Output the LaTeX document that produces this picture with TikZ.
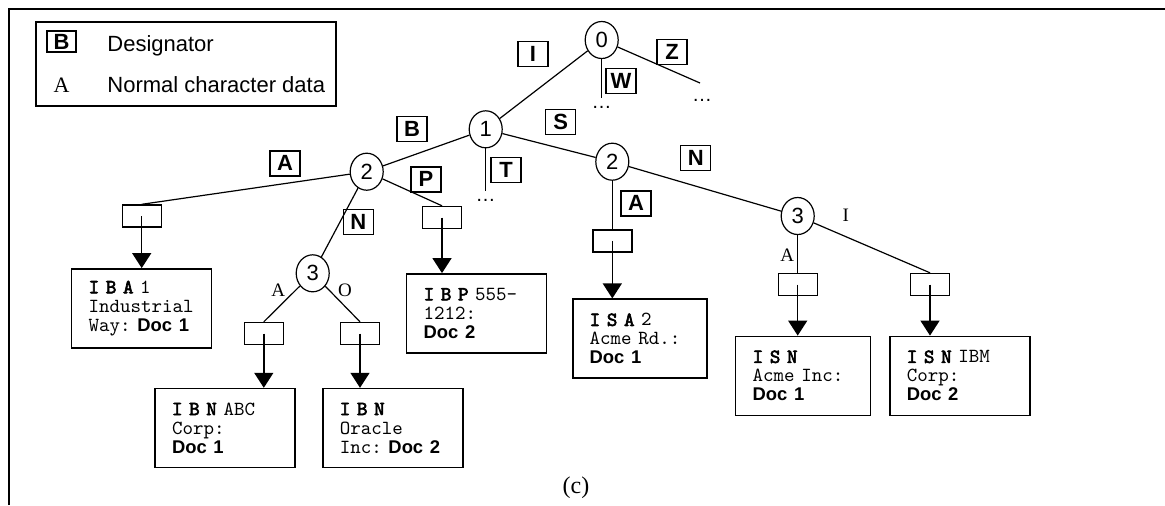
\documentclass[tikz,border=0pt]{standalone}
\usepackage{fontspec}
\setmainfont{Liberation Serif}
\setsansfont{Liberation Sans}
\setmonofont{Latin Modern Mono}[BoldFont={Latin Modern Mono},BoldFeatures={FakeBold=3}]
\usetikzlibrary{arrows.meta,shapes.geometric}

\newcommand{\keyseq}[1]{\textbf{#1}}
\newcommand{\docid}[1]{{\sffamily\bfseries\fontsize{9.2}{9.5}\selectfont #1}}

\tikzset{
  trie state/.style={
    draw,
    ellipse,
    line width=0.6pt,
    minimum width=16.5pt,
    minimum height=18.5pt,
    inner sep=0pt,
    font=\sffamily\fontsize{11}{11}\selectfont
  },
  trie key/.style={
    draw,
    line width=0.7pt,
    minimum width=15pt,
    minimum height=12.5pt,
    inner sep=0pt,
    font=\sffamily\bfseries\fontsize{11}{11}\selectfont
  },
  trie char/.style={inner sep=0pt, font=\fontsize{9.5}{9.5}\selectfont},
  trie slot/.style={
    draw,
    line width=0.7pt,
    minimum width=19.5pt,
    minimum height=11pt,
    inner sep=0pt
  },
  trie doc/.style={
    draw,
    line width=0.7pt,
    align=left,
    text width=#1,
    inner xsep=8.5pt,
    inner ysep=0pt,
    minimum height=39.5pt,
    font=\ttfamily\fontsize{10}{9.5}\selectfont
  },
  trie doc/.default=53pt,
  trie edge/.style={line width=0.6pt},
  trie ptr/.style={-{Triangle[width=9.5pt,length=7.5pt]},line width=0.7pt},
  trie more/.style={inner sep=0pt, font=\sffamily\fontsize{10}{10}\selectfont},
  legend text/.style={anchor=base west, inner sep=0pt, font=\sffamily\fontsize{11}{11}\selectfont}
}

\begin{document}
\begin{tikzpicture}[x=0.5pt,y=-0.5pt]
  \useasboundingbox (0,0) rectangle (1165,505);
  \draw[line width=1pt] (9,505) -- (9,9) -- (1165,9);

  % legend
  \draw[line width=0.7pt] (36,22) rectangle (336,106);
  \node[trie key,minimum width=14.5pt,minimum height=10.5pt] (legB) at (61.5,41.5) {B};
  \node[legend text] (legBtxt) at (107,51) {Designator};
  \node[trie char,anchor=base,font=\fontsize{11}{11}\selectfont] (legA) at (61.5,92.3) {A};
  \node[legend text] (legAtxt) at (107,92.3) {Normal character data};

  % states
  \node[trie state] (s0) at (601.7,40) {0};
  \node[trie state] (s1) at (485.7,129.3) {1};
  \node[trie state] (s2l) at (366.7,171.7) {2};
  \node[trie state] (s2r) at (612.3,161.7) {2};
  \node[trie state] (s3l) at (312.7,273.3) {3};
  \node[trie state] (s3r) at (797.7,216) {3};

  \coordinate (wEnd) at (601.7,98);
  \coordinate (zEnd) at (700,83);
  \coordinate (tEnd) at (485.7,190.7);
  \node[trie more] (wMore) at (601.7,107) {\ldots};
  \node[trie more] (zMore) at (702,100) {\ldots};
  \node[trie more] (tMore) at (485.7,200) {\ldots};

  % slots
  \node[trie slot] (slA) at (141.7,216) {};
  \node[trie slot] (slP) at (442,217.5) {};
  \node[trie slot] (slNA) at (263.8,333.5) {};
  \node[trie slot] (slNO) at (360,333.5) {};
  \node[trie slot] (slSA) at (612.3,240.8) {};
  \node[trie slot] (slSNA) at (797.7,284.5) {};
  \node[trie slot] (slSNI) at (930,284.5) {};

  % documents
  \node[trie doc] (dIBA) at (141.7,308.3) {\keyseq{I~B~A}~1\\Industrial\\Way:~\docid{Doc~1}};
  \node[trie doc] (dIBP) at (476.7,313.3) {\keyseq{I~B~P}~555-\\1212:\\\docid{Doc~2}};
  \node[trie doc] (dIBNA) at (225,428) {\keyseq{I~B~N}~ABC\\Corp:\\\docid{Doc~1}};
  \node[trie doc] (dIBNO) at (392.8,428) {\keyseq{I~B~N}\\Oracle\\Inc:~\docid{Doc~2}};
  \node[trie doc=50pt,line width=0.9pt] (dISA) at (639.7,338.8) {\keyseq{I~S~A}~2\\Acme~Rd.:\\\docid{Doc~1}};
  \node[trie doc=50.5pt] (dISNA) at (803.2,375.8) {\keyseq{I~S~N}\\Acme~Inc:\\\docid{Doc~1}};
  \node[trie doc] (dISNI) at (959.8,375.8) {\keyseq{I~S~N}~IBM\\Corp:\\\docid{Doc~2}};

  % edges
  \draw[trie edge] (s0) -- (s1);
  \draw[trie edge] (s0.south) -- (wEnd);
  \draw[trie edge] (s0) -- (zEnd);
  \draw[trie edge] (s1) -- (s2l);
  \draw[trie edge] (s1.south) -- (tEnd);
  \draw[trie edge] (s1) -- (s2r);
  \draw[trie edge] (s2l) -- (slA.north);
  \draw[trie edge] (s2l) -- (s3l);
  \draw[trie edge] (s2l) -- (slP.north);
  \draw[trie edge] (s3l) -- (slNA.north);
  \draw[trie edge] (s3l) -- (slNO.north);
  \draw[trie edge] (s2r) -- (slSA.north);
  \draw[trie edge] (s2r) -- (s3r);
  \draw[trie edge] (s3r) -- (slSNA.north);
  \draw[trie edge] (s3r) -- (slSNI.north);

  % edge keys
  \node[trie key] (kI) at (533,54) {I};
  \node[trie key] (kW) at (621,81) {W};
  \node[trie key] (kZ) at (672,52) {Z};
  \node[trie key] (kB) at (412,129) {B};
  \node[trie key] (kS) at (560.7,121.7) {S};
  \node[trie key] (kT) at (506,170) {T};
  \node[trie key] (kA1) at (285,163.3) {A};
  \node[trie key] (kP) at (426,179.3) {P};
  \node[trie key] (kN1) at (358.3,221.7) {N};
  \node[trie key] (kN2) at (695.7,158) {N};
  \node[trie key] (kA2) at (636,203.3) {A};
  \node[trie char] (cA1) at (278.3,290) {A};
  \node[trie char] (cO) at (345,290) {O};
  \node[trie char] (cA2) at (787.3,255) {A};
  \node[trie char] (cI) at (845.7,215) {I};

  % pointers
  \draw[trie ptr] (slA.center) -- (slA.center |- dIBA.north);
  \draw[trie ptr] (slP.center) -- (slP.center |- dIBP.north);
  \draw[trie ptr] (slNA.center) -- (slNA.center |- dIBNA.north);
  \draw[trie ptr] (slNO.center) -- (slNO.center |- dIBNO.north);
  \draw[trie ptr] (slSA.center) -- (slSA.center |- dISA.north);
  \draw[trie ptr] (slSNA.center) -- (slSNA.center |- dISNA.north);
  \draw[trie ptr] (slSNI.center) -- (slSNI.center |- dISNI.north);

  \node[font=\fontsize{12}{12}\selectfont] (caption) at (576,487.7) {(c)};
\end{tikzpicture}
\end{document}
